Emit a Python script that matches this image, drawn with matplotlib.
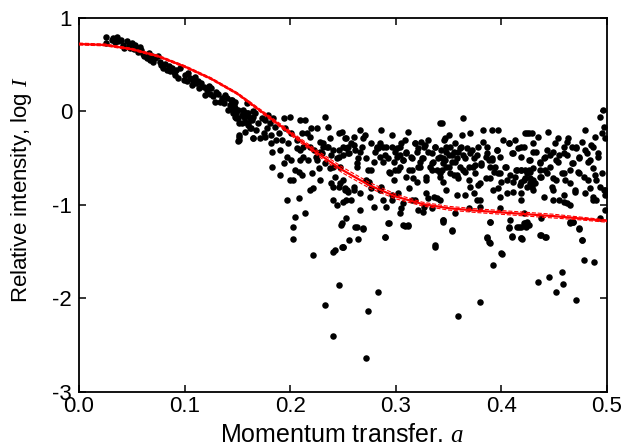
import numpy as np
import matplotlib
matplotlib.use("Agg")
import matplotlib.pyplot as plt

plt.rcParams['font.family'] = ['Liberation Sans', 'DejaVu Sans']
plt.rcParams['mathtext.fontset'] = 'custom'
plt.rcParams['mathtext.rm'] = 'Liberation Sans'
plt.rcParams['mathtext.it'] = 'Liberation Serif:italic'

# fitted curve
curve_q = [0.0, 0.025, 0.05, 0.075, 0.1, 0.125, 0.15, 0.175, 0.2, 0.225, 0.25,
           0.275, 0.3, 0.325, 0.35, 0.375, 0.4, 0.425, 0.45, 0.475, 0.5]
curve_mid = [0.72, 0.71, 0.665, 0.59, 0.48, 0.35, 0.19, -0.02, -0.23, -0.44, -0.63,
             -0.79, -0.91, -0.99, -1.035, -1.06, -1.08, -1.10, -1.12, -1.145, -1.17]
curve_hi = [0.73, 0.72, 0.675, 0.60, 0.49, 0.36, 0.20, -0.005, -0.21, -0.415, -0.60,
            -0.76, -0.885, -0.97, -1.015, -1.04, -1.06, -1.08, -1.10, -1.13, -1.16]
curve_lo = [0.71, 0.70, 0.655, 0.58, 0.47, 0.34, 0.18, -0.035, -0.25, -0.465, -0.66,
            -0.82, -0.935, -1.01, -1.055, -1.08, -1.10, -1.12, -1.14, -1.16, -1.185]

# measured points (q, log I), grouped by q range
pts_a = [(0.026,0.79),(0.026,0.73),(0.031,0.765),(0.032,0.78),(0.036,0.79),(0.037,0.75),
         (0.040,0.765),(0.042,0.71),(0.043,0.675),(0.045,0.75),(0.047,0.71),(0.048,0.675),
         (0.050,0.73),(0.053,0.71),(0.054,0.675),(0.056,0.64),(0.058,0.69),(0.059,0.66),
         (0.061,0.61),(0.062,0.59),(0.066,0.62),(0.067,0.55),(0.069,0.59),(0.072,0.57),
         (0.075,0.59),(0.077,0.53),(0.078,0.50),(0.080,0.46),(0.081,0.51),(0.085,0.48),
         (0.086,0.43),(0.088,0.46),(0.091,0.39),(0.092,0.44),(0.096,0.46),(0.099,0.34),
         (0.100,0.39),(0.103,0.41),(0.105,0.355),(0.107,0.28),(0.108,0.32),(0.110,0.37),
         (0.111,0.30),(0.114,0.25),(0.116,0.30),(0.118,0.265),(0.119,0.18),(0.121,0.23),
         (0.124,0.19),(0.125,0.25),(0.127,0.16),(0.129,0.105),(0.132,0.19),(0.135,0.14),
         (0.137,0.09),(0.138,0.175),(0.141,0.016),(0.143,0.07),(0.144,0.12),(0.146,-0.02),
         (0.148,0.034),(0.149,-0.073),(0.151,0.016),(0.152,-0.127),(0.154,-0.037),(0.155,0.016),
         (0.157,-0.109),(0.159,-0.02),(0.160,-0.145),(0.162,-0.073),(0.163,-0.18),(0.165,0.0),
         (0.152,-0.25),(0.151,-0.32),(0.165,-0.287),
         (0.034,0.74),(0.052,0.67),(0.064,0.57),(0.070,0.53),(0.083,0.44),(0.090,0.42),
         (0.094,0.36),(0.102,0.33),(0.113,0.33),(0.123,0.27),(0.130,0.21),(0.134,0.10),
         (0.140,0.14),(0.147,0.07),(0.156,-0.06)]
pts_b = [(0.145,0.12),(0.148,0.105),(0.146,0.03),(0.149,-0.02),(0.148,-0.055),(0.151,-0.07),
         (0.152,-0.27),(0.152,-0.305),(0.154,-0.126),(0.156,-0.002),(0.157,-0.055),(0.157,-0.216),
         (0.159,0.087),(0.160,-0.02),(0.160,-0.126),(0.162,-0.18),(0.164,-0.09),(0.165,-0.055),
         (0.165,-0.287),(0.167,-0.02),(0.168,-0.198),(0.170,-0.126),(0.171,-0.287),(0.173,-0.073),
         (0.175,-0.233),(0.176,-0.09),(0.176,-0.27),(0.178,-0.18),(0.179,-0.037),(0.181,-0.126),
         (0.182,-0.251),(0.182,-0.34),(0.183,-0.43),(0.183,-0.59),(0.184,-0.073),(0.186,-0.162),
         (0.187,-0.305),(0.189,-0.233),(0.190,-0.68),(0.190,-0.412),(0.192,-0.305),(0.194,-0.554),
         (0.194,-0.073),(0.195,-0.18),(0.197,-0.483),(0.197,-0.946),(0.198,-0.34),(0.200,-0.055),
         (0.200,-0.733),(0.201,-0.233),(0.201,-0.519),(0.203,-0.733),(0.203,-1.232),(0.205,-1.125),
         (0.205,-0.626),(0.206,-0.305),(0.206,-0.394),(0.208,-0.643),(0.208,-0.929),(0.209,-0.09),
         (0.209,-0.519),(0.211,-0.233),(0.211,-0.68),(0.212,-0.376),(0.214,-1.089),(0.214,-0.09),
         (0.216,-0.233),(0.217,-0.519),(0.219,-0.27),(0.219,-0.84),(0.220,-0.18),(0.221,-0.661),
         (0.222,-0.822),(0.222,-1.535),(0.223,-0.412),(0.225,-0.18),(0.225,-0.519),(0.227,-0.608),
         (0.228,-0.323),(0.228,-0.733),(0.230,-0.447),(0.231,-0.376),(0.233,-0.055),(0.233,-0.554),
         (0.235,-0.376),(0.236,-0.162),(0.238,-0.287),(0.238,-0.608),(0.239,-0.465),(0.239,-0.768),
         (0.241,-0.804),(0.242,-0.697),(0.244,-1.0),(0.244,-0.5),(0.246,-0.233),(0.246,-0.804),
         (0.247,-0.59),(0.249,-1.196),(0.250,-0.733),(0.250,-1.446),(0.252,-0.287),(0.252,-0.84),
         (0.253,-0.394),(0.253,-0.946),(0.242,-1.48),(0.246,-0.412),(0.203,-1.36)]
pts_c = [(0.249,-0.216),(0.250,-0.465),(0.253,-0.287),(0.255,-0.376),(0.256,-0.447),(0.258,-0.34),
         (0.260,-0.269),(0.261,-0.412),(0.263,-0.59),(0.264,-0.501),(0.266,-0.198),(0.268,-0.376),
         (0.269,-0.287),(0.271,-0.251),(0.272,-0.733),(0.274,-0.626),(0.275,-0.75),(0.277,-0.34),
         (0.279,-0.537),(0.280,-0.43),(0.282,-0.376),(0.283,-0.394),(0.285,-0.34),(0.286,-0.198),
         (0.288,-0.537),(0.290,-0.465),(0.291,-0.376),(0.294,-0.643),(0.296,-0.251),(0.298,-0.733),
         (0.298,-0.537),(0.299,-0.43),(0.301,-0.394),(0.302,-0.626),(0.304,-0.465),(0.305,-0.34),
         (0.307,-0.519),(0.309,-0.305),(0.310,-0.447),(0.312,-0.216),(0.313,-0.626),(0.315,-0.501),
         (0.316,-0.715),(0.318,-0.34),(0.320,-0.43),(0.321,-0.59),(0.323,-0.537),(0.324,-0.323),
         (0.326,-0.501),(0.327,-0.376),(0.329,-0.697),(0.331,-0.305),(0.332,-0.59),(0.334,-0.447),
         (0.335,-0.537),(0.337,-0.376),(0.339,-0.626),(0.340,-0.501),(0.342,-0.127),(0.342,-0.697),
         (0.343,-0.412),(0.345,-0.554),(0.346,-0.305),(0.348,-0.59),(0.350,-0.465),
         (0.252,-0.822),(0.255,-0.857),(0.258,-0.946),(0.253,-1.143),(0.263,-1.232),(0.269,-1.25),
         (0.256,-1.374),(0.250,-1.446),(0.266,-1.053),(0.279,-1.018),(0.286,-0.804),(0.291,-1.018),
         (0.293,-1.196),(0.296,-0.946),(0.302,-0.875),(0.304,-1.089),(0.305,-1.036),(0.307,-1.214),
         (0.312,-1.214),(0.313,-0.822),(0.315,-0.946),(0.321,-1.053),(0.326,-1.071),(0.327,-1.018),
         (0.331,-0.929),(0.334,-1.036),(0.339,-0.929),(0.342,-0.946),(0.345,-1.16),(0.337,-1.446),
         (0.290,-1.339),(0.260,-0.84),(0.285,-0.84),(0.277,-0.822)]
pts_d = [(0.344,-0.127),(0.347,-0.287),(0.345,-0.501),(0.344,-0.626),(0.348,-0.43),(0.350,-0.251),
         (0.350,-0.59),(0.351,-0.376),(0.353,-0.537),(0.355,-0.679),(0.355,-0.43),(0.356,-0.34),
         (0.358,-0.501),(0.359,-0.715),(0.361,-0.394),(0.361,-0.59),(0.363,-0.251),(0.364,-0.073),
         (0.364,-0.465),(0.366,-0.643),(0.366,-0.893),(0.367,-0.394),(0.369,-0.59),(0.370,-0.234),
         (0.372,-0.412),(0.374,-0.501),(0.374,-0.875),(0.375,-0.572),(0.377,-0.946),(0.378,-0.786),
         (0.378,-0.376),(0.380,-1.018),(0.381,-0.572),(0.383,-0.198),(0.383,-0.323),(0.385,-0.715),
         (0.386,-0.447),(0.388,-0.519),(0.389,-0.59),(0.391,-0.198),(0.391,-0.501),(0.393,-0.643),
         (0.394,-0.59),(0.396,-0.412),(0.397,-0.822),(0.397,-0.198),(0.399,-0.661),(0.400,-0.75),
         (0.402,-0.305),(0.404,-0.59),(0.405,-0.875),(0.407,-0.34),(0.408,-0.679),(0.410,-0.447),
         (0.411,-0.75),(0.413,-0.305),(0.415,-0.626),(0.416,-0.394),(0.418,-0.786),(0.419,-0.626),
         (0.421,-0.376),(0.422,-0.715),(0.424,-0.234),(0.426,-0.519),(0.427,-0.643),
         (0.345,-1.16),(0.353,-1.267),(0.356,-1.089),(0.369,-1.036),(0.386,-1.339),(0.388,-1.392),
         (0.389,-1.178),(0.399,-1.036),(0.400,-1.517),(0.407,-1.25),(0.408,-1.16),(0.410,-1.339),
         (0.415,-1.232),(0.419,-1.356),(0.421,-1.196),(0.426,-1.214),(0.421,-1.089)]
pts_e = [(0.419,-0.376),(0.422,-0.234),(0.426,-0.234),(0.429,-0.234),(0.430,-0.34),(0.430,-0.43),
         (0.435,-0.269),(0.437,-0.537),(0.438,-0.697),(0.440,-0.501),(0.441,-0.626),(0.443,-0.412),
         (0.444,-0.216),(0.446,-0.465),(0.448,-0.804),(0.449,-0.715),(0.451,-0.34),(0.452,-0.519),
         (0.454,-0.287),(0.455,-0.465),(0.457,-0.661),(0.459,-0.447),(0.460,-0.733),(0.462,-0.323),
         (0.463,-0.287),(0.465,-0.626),(0.467,-0.376),(0.468,-0.554),(0.470,-0.84),(0.471,-0.394),
         (0.473,-0.643),(0.474,-0.501),(0.476,-0.323),(0.478,-0.697),(0.479,-0.198),(0.481,-0.447),
         (0.482,-0.537),(0.484,-0.822),(0.485,-0.358),(0.487,-0.608),(0.489,-0.269),(0.490,-0.733),
         (0.492,-0.447),(0.493,-0.055),(0.495,-0.234),(0.497,-0.162),(0.498,-0.84),(0.498,-0.287),
         (0.498,-0.893),(0.496,0.016),(0.487,-0.911),(0.490,-0.946),(0.419,-0.626),(0.422,-0.626),
         (0.426,-0.626),(0.427,-0.715),(0.429,-0.804),(0.430,-0.733),(0.432,-0.768),(0.424,-0.804),
         (0.421,-0.733),(0.437,-0.626),(0.455,-0.946),(0.459,-0.964),(0.462,-0.982),(0.465,-1.0),
         (0.449,-0.946),(0.419,-0.946),
         (0.419,-1.232),(0.422,-1.196),(0.419,-1.356),(0.438,-1.143),(0.438,-1.321),(0.441,-1.339),
         (0.465,-1.178),(0.468,-1.178),(0.474,-1.25),(0.476,-1.374),(0.493,-1.143),(0.498,-1.053)]
pts_f = [(0.209,-0.412),(0.212,-0.483),(0.219,-0.376),(0.224,-0.483),(0.228,-0.43),(0.231,-0.34),
         (0.236,-0.376),(0.241,-0.412),(0.241,-0.59),(0.246,-0.483),(0.250,-0.376),(0.255,-0.447),
         (0.260,-0.358),(0.263,-0.554),(0.266,-0.43),(0.272,-0.501),(0.274,-0.75),(0.277,-0.626),
         (0.282,-0.394),(0.285,-0.483),(0.288,-0.376),(0.293,-0.501),(0.296,-0.376),(0.301,-0.483),
         (0.304,-0.376),(0.307,-0.519),(0.310,-0.43),(0.314,-0.483),(0.318,-0.34),(0.321,-0.394),
         (0.325,-0.501),(0.328,-0.358),(0.331,-0.43),(0.334,-0.554),(0.337,-0.376),(0.342,-0.483),
         (0.347,-0.519),(0.348,-0.376),(0.353,-0.465),(0.356,-0.537),(0.359,-0.43),(0.362,-0.376),
         (0.366,-0.501),(0.370,-0.447),(0.373,-0.59),(0.377,-0.465),(0.381,-0.554),(0.385,-0.483),
         (0.386,-0.376),(0.391,-0.519),(0.396,-0.412),(0.399,-0.483),(0.403,-0.59),(0.407,-0.34),
         (0.411,-0.447),(0.414,-0.626),(0.419,-0.483),(0.424,-0.661),(0.427,-0.519),(0.430,-0.608),
         (0.433,-0.43),(0.437,-0.554),(0.441,-0.483),(0.446,-0.59),(0.449,-0.43),(0.454,-0.537),
         (0.459,-0.376),(0.462,-0.465),(0.467,-0.554),(0.471,-0.376),(0.474,-0.483),(0.479,-0.412),
         (0.484,-0.519),(0.487,-0.376),(0.492,-0.483),(0.495,-0.661),
         (0.295,-0.661),(0.299,-0.626),(0.304,-0.59),(0.310,-0.697),(0.315,-0.626),(0.320,-0.75),
         (0.323,-0.59),(0.329,-0.733),(0.334,-0.626),(0.342,-0.661),(0.345,-0.75),(0.351,-0.661),
         (0.358,-0.679),(0.364,-0.626),(0.369,-0.733),(0.375,-0.661),(0.380,-0.768),(0.389,-0.715),
         (0.397,-0.661),(0.405,-0.733),(0.413,-0.697),(0.419,-0.75),(0.427,-0.768),(0.437,-0.697),
         (0.443,-0.661),(0.452,-0.733),(0.459,-0.661),(0.465,-0.768),(0.474,-0.661),(0.482,-0.733),
         (0.489,-0.679),(0.493,-0.804),(0.497,-0.84),
         (0.247,-0.768),(0.254,-0.84),(0.260,-0.804),(0.241,-0.946),(0.250,-0.964),(0.266,-0.875),
         (0.276,-0.911),(0.288,-0.946),(0.296,-0.893),(0.307,-0.982),(0.318,-0.946),(0.329,-0.875),
         (0.336,-0.911),(0.348,-0.84),(0.358,-0.893),(0.370,-0.804),(0.380,-0.946),(0.392,-0.84),
         (0.399,-0.911),(0.411,-0.857),(0.419,-0.875),(0.430,-0.84),(0.440,-0.911),(0.449,-0.84),
         (0.459,-0.893),(0.470,-0.857),(0.479,-0.875),(0.487,-0.946)]
pts_low = [(0.241,-1.499),(0.249,-1.452),(0.248,-1.21),(0.261,-1.238),(0.269,-1.253),(0.264,-1.363),
           (0.294,-1.188),(0.290,-1.345),(0.309,-1.22),(0.312,-1.22),(0.337,-1.427),(0.345,-1.178),
           (0.353,-1.274),(0.246,-1.859),(0.233,-2.066),(0.241,-2.404),(0.272,-2.632),(0.274,-2.137),
           (0.283,-1.93),(0.359,-2.187),(0.380,-2.037),(0.392,-1.641),(0.401,-1.524),(0.386,-1.356),
           (0.389,-1.402),(0.389,-1.178),(0.407,-1.238),(0.410,-1.328),(0.417,-1.238),(0.420,-1.363),
           (0.423,-1.238),(0.424,-1.178),(0.437,-1.317),(0.442,-1.345),(0.435,-1.82),(0.445,-1.77),
           (0.457,-1.713),(0.458,-1.84),(0.452,-1.93),(0.471,-2.012),(0.478,-1.584),(0.488,-1.606),
           (0.474,-1.26),(0.476,-1.374),(0.465,-1.189),(0.468,-1.178)]

pts = np.array(pts_a + pts_b + pts_c + pts_d + pts_e + pts_f + pts_low)

fig = plt.figure(figsize=(6.27, 4.46), dpi=100)
ax = fig.add_axes([0.126, 0.121, 0.842, 0.839])

ax.scatter(pts[:, 0], pts[:, 1], s=22, color='black', linewidths=0, zorder=2)
ax.plot(curve_q, curve_hi, color='red', lw=0.8, ls='--', zorder=3)
ax.plot(curve_q, curve_lo, color='red', lw=0.8, ls='--', zorder=3)
ax.plot(curve_q, curve_mid, color='red', lw=1.6, zorder=4)

ax.set_xlim(0, 0.5)
ax.set_ylim(-3, 1)
ax.set_xticks([0.0, 0.1, 0.2, 0.3, 0.4, 0.5])
ax.set_xticklabels(['0.0', '0.1', '0.2', '0.3', '0.4', '0.5'])
ax.set_yticks([-3, -2, -1, 0, 1])
ax.set_yticklabels(['-3', '-2', '-1', '0', '1'])
ax.tick_params(direction='in', length=5, width=1.1, top=True, right=True, labelsize=16)
ax.tick_params(axis='x', pad=3)
ax.tick_params(axis='y', pad=5)
for sp in ax.spines.values():
    sp.set_linewidth(1.3)

ax.set_xlabel(r'Momentum transfer. $a$', fontsize=18)
ax.xaxis.set_label_coords(0.499, -0.082)
ax.set_ylabel(r'Relative intensity, log $I$', fontsize=16)
ax.yaxis.set_label_coords(-0.085, 0.54)

fig.savefig('out.png', dpi=100)
